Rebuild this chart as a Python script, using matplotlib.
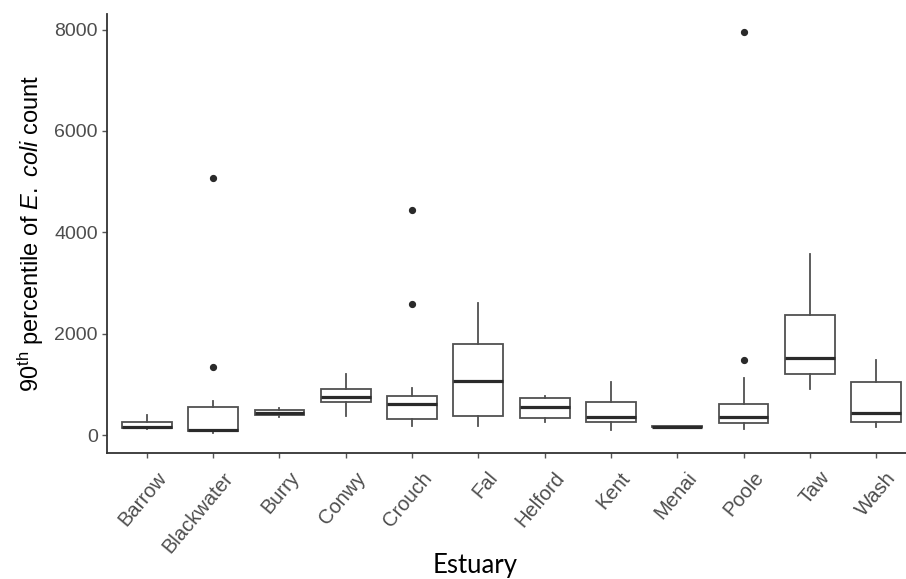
import matplotlib
matplotlib.use("Agg")
import matplotlib.pyplot as plt
import matplotlib.transforms as mtransforms

plt.rcParams["mathtext.fontset"] = "custom"
plt.rcParams["mathtext.rm"] = "Liberation Sans"
plt.rcParams["mathtext.it"] = "Liberation Sans:italic"

estuaries = ["Barrow", "Blackwater", "Burry", "Conwy", "Crouch", "Fal",
             "Helford", "Kent", "Menai", "Poole", "Taw", "Wash"]
whisker_low = [110, 46, 350, 382, 184, 184, 263, 99, 135, 119, 911, 164]
q1 = [133, 85, 390, 660, 311, 382, 330, 251, 150, 231, 1202, 263]
median = [164, 105, 442, 746, 608, 1069, 548, 350, 160, 350, 1519, 430]
q3 = [263, 560, 495, 905, 772, 1796, 739, 647, 170, 608, 2376, 1055]
whisker_high = [396, 680, 528, 1208, 925, 2608, 778, 1036, 180, 1122, 3578, 1471]
outliers = [[], [1336, 5076], [], [], [2579, 4439], [], [], [], [], [1471, 7945], [], []]
y_ticks = [0, 2000, 4000, 6000, 8000]

stats = []
for i, name in enumerate(estuaries):
    stats.append(dict(label=name, whislo=whisker_low[i], q1=q1[i], med=median[i],
                      q3=q3[i], whishi=whisker_high[i], fliers=outliers[i]))

fig = plt.figure(figsize=(9.06, 5.79), dpi=100)
ax = fig.add_axes([107/906, 125.7/579, (916-107)/906, (453.3-14)/579])

positions = list(range(1, len(estuaries) + 1))
ax.bxp(stats, positions=positions, widths=0.75,
       showcaps=False, patch_artist=True,
       boxprops=dict(facecolor="white", edgecolor="#505050", linewidth=1.3),
       whiskerprops=dict(color="#505050", linewidth=1.3),
       medianprops=dict(color="#2a2a2a", linewidth=2.3),
       flierprops=dict(marker="o", markersize=4.2, markerfacecolor="#2a2a2a",
                       markeredgecolor="#2a2a2a"))

ax.set_xlim(0.4, len(estuaries) + 0.6)
ax.set_ylim(-361, 8306)
ax.set_yticks(y_ticks)
ax.set_yticklabels([str(v) for v in y_ticks], fontsize=14, color="#4d4d4d",
                   family="Liberation Sans")
ax.set_xticks(positions)
ax.set_xticklabels([])

base = mtransforms.blended_transform_factory(ax.transData, ax.transAxes)
offset = mtransforms.ScaledTranslation(0.09, -0.15, fig.dpi_scale_trans)
for pos, name in zip(positions, estuaries):
    ax.text(pos, 0, name, transform=base + offset, rotation=50,
            ha="right", va="top", rotation_mode="anchor",
            fontsize=14.5, color="#4d4d4d", family="Liberation Sans",
            clip_on=False)

for s in ["top", "right"]:
    ax.spines[s].set_visible(False)
for s in ["left", "bottom"]:
    ax.spines[s].set_color("#333333")
    ax.spines[s].set_linewidth(1.3)
ax.tick_params(axis="both", length=3.5, width=1, color="#555555", pad=3)

ax.set_ylabel(r"90$^{\mathrm{th}}$ percentile of $\mathit{E.\ coli}$ count",
              fontsize=17, family="Liberation Sans", labelpad=6)
fig.text(475/906, 1 - 566/579, "Estuary", fontsize=18.5, family="Lato",
         ha="center", va="center")

fig.savefig("out.png", dpi=100)
